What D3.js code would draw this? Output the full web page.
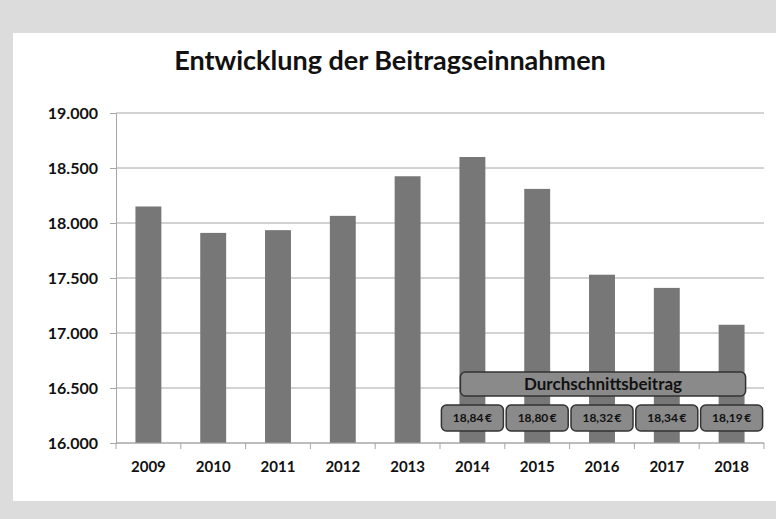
<!DOCTYPE html>
<html>
<head>
<meta charset="utf-8">
<script src="https://cdn.jsdelivr.net/npm/d3@7"></script>
<style>
  body { margin: 0; background: #dcdcdc; }
  svg { display: block; font-family: Lato, "Open Sans", sans-serif; }
</style>
</head>
<body>
<div id="chart"></div>
<script>
// --- data ---
const years = ["2009", "2010", "2011", "2012", "2013", "2014", "2015", "2016", "2017", "2018"];
const income = [18150, 17910, 17935, 18065, 18425, 18600, 18310, 17530, 17410, 17075];
const avgYears = ["2014", "2015", "2016", "2017", "2018"];
const avgValues = [18.84, 18.80, 18.32, 18.34, 18.19];
const yTicks = [16000, 16500, 17000, 17500, 18000, 18500, 19000];
const title = "Entwicklung der Beitragseinnahmen";
const avgTitle = "Durchschnittsbeitrag";

const W = 776, H = 519;
const de = d3.formatLocale({ decimal: ",", thousands: ".", grouping: [3], currency: ["", "\u2009€"] });

const svg = d3.select("#chart").append("svg")
  .attr("width", W)
  .attr("height", H);

// grey frame + white panel
svg.append("rect").attr("width", W).attr("height", H).attr("fill", "#dcdcdc");
svg.append("rect").attr("x", 13).attr("y", 33).attr("width", W - 13).attr("height", 468).attr("fill", "#fff");

// --- scales ---
const x = d3.scaleBand()
  .domain(years)
  .range([116, 764])
  .paddingInner(0.6)
  .paddingOuter(0.3);

const y = d3.scaleLinear()
  .domain([16000, 19000])
  .range([443, 113]);

// title
svg.append("text")
  .attr("x", 390)
  .attr("y", 70)
  .attr("text-anchor", "middle")
  .style("font-size", "27px")
  .style("font-weight", "bold")
  .attr("fill", "#111")
  .text(title);

// gridlines
svg.append("g")
  .selectAll("line")
  .data(yTicks)
  .join("line")
  .attr("x1", 116)
  .attr("x2", 764)
  .attr("y1", d => y(d))
  .attr("y2", d => y(d))
  .attr("stroke", "#a6a6a6")
  .attr("stroke-width", 1);

// y axis
const yAxis = svg.append("g")
  .attr("transform", "translate(116,0)")
  .call(d3.axisLeft(y).tickValues(yTicks).tickSize(6).tickPadding(12).tickFormat(de.format(",")));
yAxis.select(".domain").attr("stroke", "#a6a6a6");
yAxis.selectAll(".tick line").attr("stroke", "#a6a6a6");
yAxis.selectAll("text")
  .style("font-size", "16px")
  .style("font-weight", "bold")
  .style("font-family", "Lato, sans-serif")
  .attr("fill", "#111");

// bars
svg.append("g")
  .selectAll("rect")
  .data(years.map((d, i) => ({ year: d, value: income[i] })))
  .join("rect")
  .attr("x", d => x(d.year))
  .attr("y", d => y(d.value))
  .attr("width", x.bandwidth())
  .attr("height", d => y(16000) - y(d.value))
  .attr("fill", "#777");

// x axis (ticks between categories)
const xAxisG = svg.append("g").attr("transform", `translate(0,${y(16000)})`);
xAxisG.append("line")
  .attr("x1", 116).attr("x2", 764)
  .attr("stroke", "#a6a6a6");
const step = x.step();
xAxisG.selectAll("line.tk")
  .data(d3.range(years.length + 1))
  .join("line")
  .attr("class", "tk")
  .attr("x1", i => 116 + i * step)
  .attr("x2", i => 116 + i * step)
  .attr("y1", 0)
  .attr("y2", 6)
  .attr("stroke", "#a6a6a6");
xAxisG.selectAll("text")
  .data(years)
  .join("text")
  .attr("x", d => x(d) + x.bandwidth() / 2)
  .attr("y", 29)
  .attr("text-anchor", "middle")
  .style("font-size", "15px")
  .style("font-weight", "bold")
  .attr("fill", "#111")
  .text(d => d);

// --- average contribution boxes ---
const boxFill = "#8a8a8a", boxStroke = "#333";
const bigX0 = x(avgYears[0]) + x.bandwidth() / 2 - 12;
const bigX1 = x(avgYears[avgYears.length - 1]) + x.bandwidth() / 2 + 14;
svg.append("rect")
  .attr("x", bigX0).attr("y", 372)
  .attr("width", bigX1 - bigX0).attr("height", 24)
  .attr("rx", 5)
  .attr("fill", boxFill)
  .attr("stroke", boxStroke)
  .attr("stroke-width", 1.5);
svg.append("text")
  .attr("x", (bigX0 + bigX1) / 2)
  .attr("y", 390)
  .attr("text-anchor", "middle")
  .style("font-size", "17px")
  .style("font-weight", "bold")
  .attr("fill", "#111")
  .text(avgTitle);

const small = svg.append("g")
  .selectAll("g")
  .data(avgYears.map((d, i) => ({ year: d, value: avgValues[i] })))
  .join("g")
  .attr("transform", d => `translate(${x(d.year) + x.bandwidth() / 2},0)`);
small.append("rect")
  .attr("x", -31).attr("y", 405)
  .attr("width", 62).attr("height", 26)
  .attr("rx", 5)
  .attr("fill", boxFill)
  .attr("stroke", boxStroke)
  .attr("stroke-width", 1.5);
small.append("text")
  .attr("y", 422)
  .attr("text-anchor", "middle")
  .style("font-size", "12px")
  .style("font-weight", "bold")
  .attr("fill", "#111")
  .text(d => de.format("$,.2f")(d.value));
</script>
</body>
</html>
